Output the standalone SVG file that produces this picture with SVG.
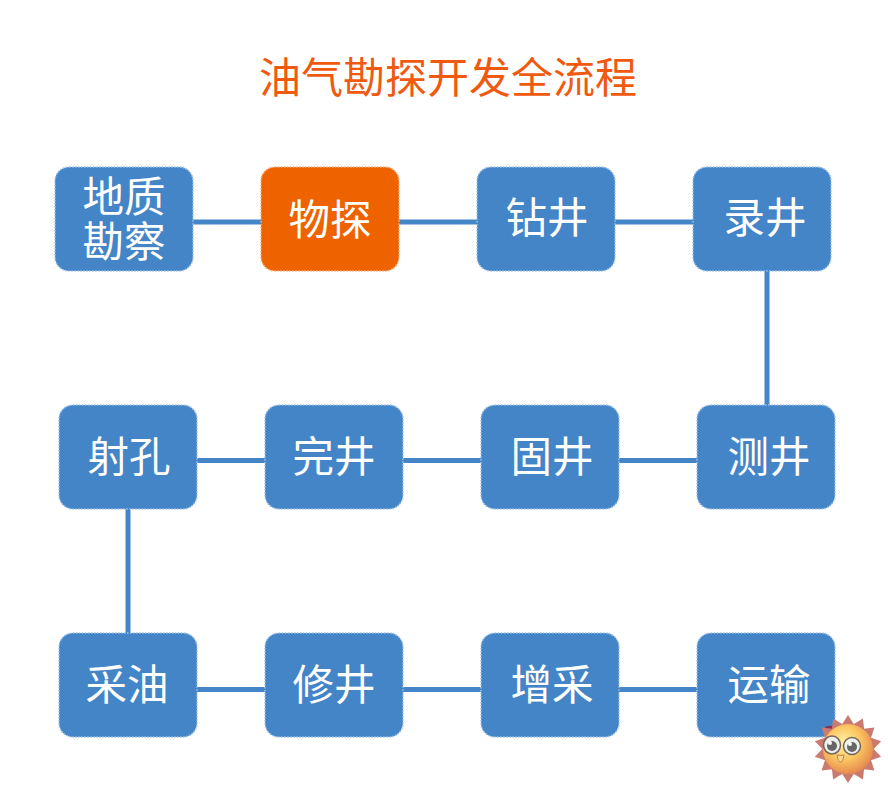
<svg xmlns="http://www.w3.org/2000/svg" width="888" height="788" viewBox="0 0 888 788">
<style>
text{font-family:"Noto Sans CJK SC","Liberation Sans",sans-serif;text-anchor:middle}
.t{font-size:42px;fill:#f05a10}
.n{font-size:41.5px;fill:#fff}
.b{fill:#4485c8;stroke:#9fc2e4;stroke-width:1.5;stroke-dasharray:1.5 1.5}
.o{fill:#ee6200;stroke:#f6b183;stroke-width:1.5;stroke-dasharray:1.5 1.5}
.c{stroke:#4485c8;stroke-width:5;fill:none}
.s{fill:#cb7a70}
</style>
<defs>
<radialGradient id="sg" cx="0.42" cy="0.38" r="0.68"><stop offset="0" stop-color="#fff3a8"/><stop offset="0.5" stop-color="#fbc560"/><stop offset="1" stop-color="#e27f4c"/></radialGradient>
<path id="sp" class="s" d="M-7 -23L0 -34L7 -23z"/>
</defs>
<rect width="888" height="788" fill="#fff"/>
<text class="t" x="448" y="93">油气勘探开发全流程</text>
<g id="connectors">
<path class="c" d="M193 222H261M399 222H477M615 222H693M767 271V405M197 460.500H265M403 460.500H481M619 460.500H697M128 509V633M197 689.500H265M403 689.500H481M619 689.500H697"/>
</g>
<g id="n1"><rect class="b" x="55" y="167" width="138" height="104" rx="14"/><text class="n"><tspan x="124" y="212">地质</tspan><tspan x="124" y="257">勘察</tspan></text></g>
<g id="n2"><rect class="o" x="261" y="167" width="138" height="104" rx="14"/><text class="n" x="330" y="235">物探</text></g>
<g id="n3"><rect class="b" x="477" y="167" width="138" height="104" rx="14"/><text class="n" x="547" y="233">钻井</text></g>
<g id="n4"><rect class="b" x="693" y="167" width="138" height="104" rx="14"/><text class="n" x="765" y="233">录井</text></g>
<g id="n5"><rect class="b" x="697" y="405" width="138" height="104" rx="14"/><text class="n" x="769" y="472">测井</text></g>
<g id="n6"><rect class="b" x="481" y="405" width="138" height="104" rx="14"/><text class="n" x="552" y="472">固井</text></g>
<g id="n7"><rect class="b" x="265" y="405" width="138" height="104" rx="14"/><text class="n" x="334" y="472">完井</text></g>
<g id="n8"><rect class="b" x="59" y="405" width="138" height="104" rx="14"/><text class="n" x="129" y="472">射孔</text></g>
<g id="n9"><rect class="b" x="59" y="633" width="138" height="104" rx="14"/><text class="n" x="127" y="700">采油</text></g>
<g id="n10"><rect class="b" x="265" y="633" width="138" height="104" rx="14"/><text class="n" x="334" y="700">修井</text></g>
<g id="n11"><rect class="b" x="481" y="633" width="138" height="104" rx="14"/><text class="n" x="552" y="700">增采</text></g>
<g id="n12"><rect class="b" x="697" y="633" width="138" height="104" rx="14"/><text class="n" x="769" y="700">运输</text></g>
<g id="sun">
<path d="M825 727q6 -3 10 1q-3 4 -6 6z" fill="#8a3050"/>
<g transform="translate(848 749)">
<use href="#sp" transform="rotate(0)"/><use href="#sp" transform="rotate(26)"/><use href="#sp" transform="rotate(51)"/><use href="#sp" transform="rotate(77)"/><use href="#sp" transform="rotate(103)"/><use href="#sp" transform="rotate(129)"/><use href="#sp" transform="rotate(154)"/><use href="#sp" transform="rotate(180)"/><use href="#sp" transform="rotate(206)"/><use href="#sp" transform="rotate(231)"/><use href="#sp" transform="rotate(257)"/><use href="#sp" transform="rotate(283)"/><use href="#sp" transform="rotate(309)"/><use href="#sp" transform="rotate(334)"/>
<circle r="25" fill="url(#sg)"/>
</g>
<ellipse cx="832" cy="745" rx="8.500" ry="9" fill="#eef0ee" stroke="#75655a" stroke-width="1.500"/>
<ellipse cx="852" cy="746" rx="8.500" ry="8.500" fill="#eef0ee" stroke="#75655a" stroke-width="1.500"/>
<circle cx="832" cy="746" r="5" fill="#666"/>
<circle cx="852" cy="747" r="5" fill="#666"/>
<circle cx="830" cy="743" r="2" fill="#fff"/>
<circle cx="850" cy="744" r="2" fill="#fff"/>
<path d="M837 755q4 1 7 0q-1 7 -3.500 7q-2.500 0 -3.500 -7z" fill="#fbd890" stroke="#c08050"/>
</g>
</svg>
